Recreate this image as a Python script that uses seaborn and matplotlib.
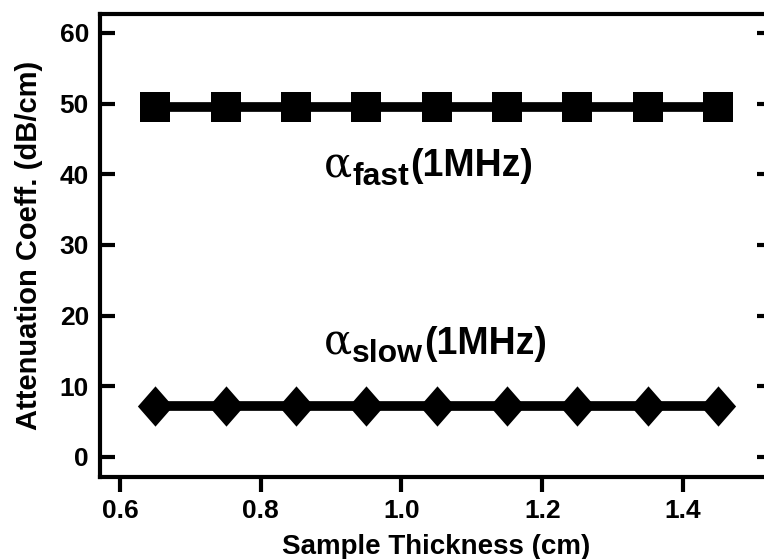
import numpy as np
import pandas as pd
import seaborn as sns
import matplotlib.pyplot as plt

sns.set_style("ticks")
plt.rcParams['font.family'] = ['Liberation Sans', 'DejaVu Sans']
plt.rcParams['font.weight'] = 'bold'
for k in ['text.color', 'axes.labelcolor', 'xtick.color', 'ytick.color', 'axes.edgecolor']:
    plt.rcParams[k] = 'black'

# data
thickness = [0.65, 0.75, 0.85, 0.95, 1.05, 1.15, 1.25, 1.35, 1.45]
alpha_fast = [49.5, 49.5, 49.5, 49.5, 49.5, 49.5, 49.5, 49.5, 49.5]
alpha_slow = [7.2, 7.2, 7.2, 7.2, 7.2, 7.2, 7.2, 7.2, 7.2]
xticks = [0.6, 0.8, 1.0, 1.2, 1.4]
yticks = [0, 10, 20, 30, 40, 50, 60]
labels = [('fast', 39.7), ('slow', 14.6)]

df = pd.DataFrame({'t': thickness, 'fast': alpha_fast, 'slow': alpha_slow})

fig = plt.figure(figsize=(7.64, 5.59), dpi=100)
ax = fig.add_axes([0.1309, 0.1467, 0.8796, 0.8283])

diamond = [(0, 1), (0.875, 0), (0, -1), (-0.875, 0), (0, 1)]
sns.lineplot(data=df, x='t', y='fast', ax=ax, color='black', linewidth=7,
             marker='s', markersize=22, markeredgewidth=0)
sns.lineplot(data=df, x='t', y='slow', ax=ax, color='black', linewidth=7,
             marker=diamond, markersize=29, markeredgewidth=0)

ax.set_xlim(0.5716, 1.5265)
ax.set_ylim(-2.83, 62.69)
ax.set_xticks(xticks)
ax.set_xticklabels(['%.1f' % v for v in xticks])
ax.set_yticks(yticks)

for s in ax.spines.values():
    s.set_linewidth(3)
    s.set_visible(True)

ax.tick_params(axis='x', direction='out', length=11, width=3, pad=5, labelsize=19)
ax.tick_params(axis='y', direction='in', length=11, width=3, pad=8, labelsize=19,
               right=True)

ax.set_xlabel('Sample Thickness (cm)', fontsize=20, fontweight='bold', labelpad=8)
ax.set_ylabel('Attenuation Coeff. (dB/cm)', fontsize=21, fontweight='bold', labelpad=12)

# alpha_sub(1MHz) labels built from pieces
for sub, yv in labels:
    a = ax.text(0.889, yv, '\u03b1', fontfamily='DejaVu Serif', fontweight='normal',
                fontsize=30, ha='left', va='baseline')
    s = ax.annotate(sub, xy=(1, yv), xycoords=(a, 'data'), xytext=(0.5, -6),
                    textcoords='offset points', fontsize=23, fontweight='bold',
                    ha='left', va='baseline')
    ax.annotate('(1MHz)', xy=(1, yv), xycoords=(s, 'data'), xytext=(0.5, 0),
                textcoords='offset points', fontsize=27, fontweight='bold',
                ha='left', va='baseline')

fig.savefig('out.png', dpi=100)
